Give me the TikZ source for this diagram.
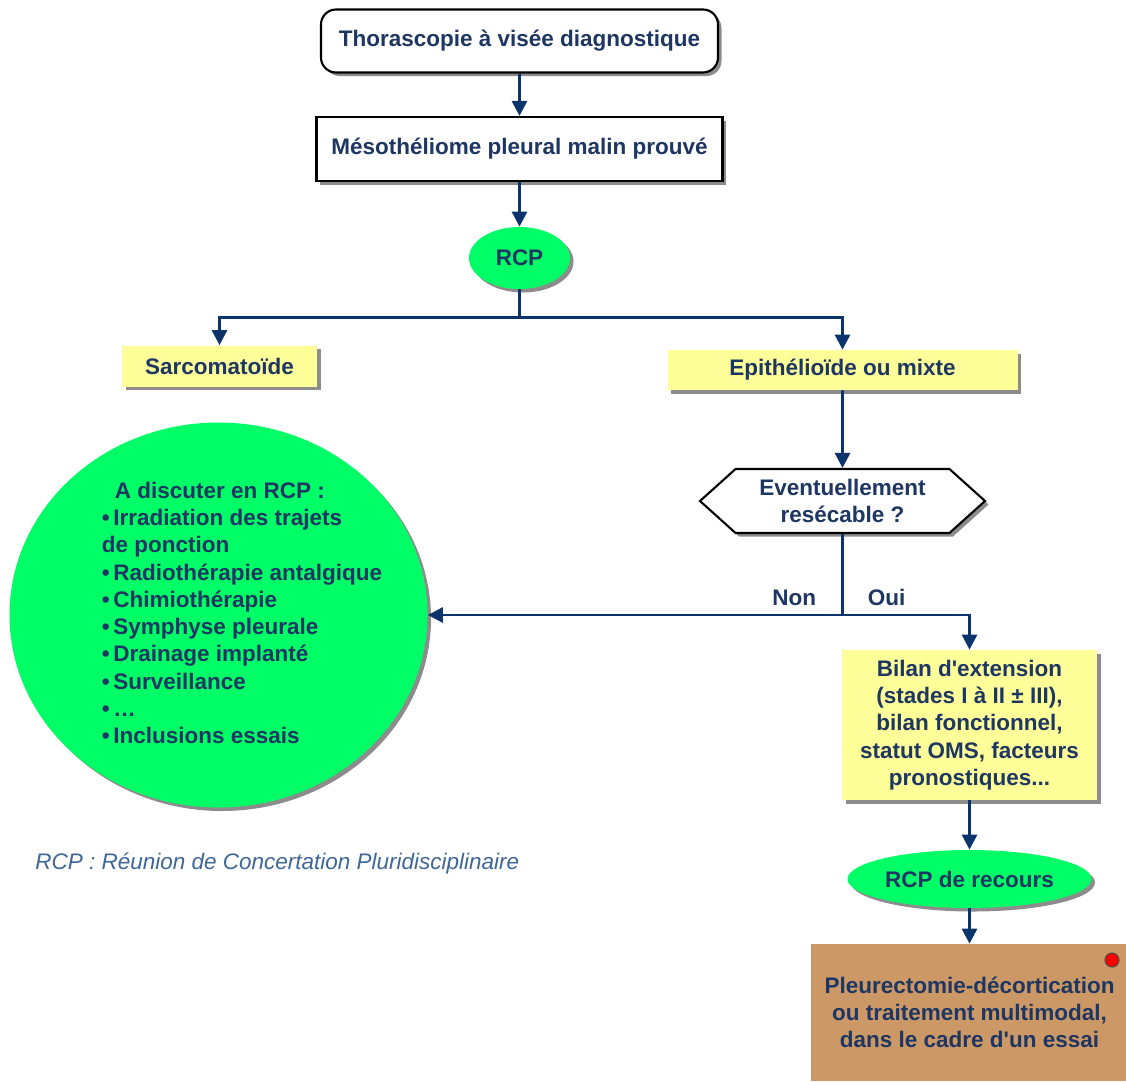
\documentclass[tikz,border=0pt]{standalone}
\usepackage{fontspec}
\setmainfont{Liberation Sans}[Ligatures=TeXOff]
\usepackage{tikz}
\usetikzlibrary{shapes.geometric, shapes.symbols, arrows.meta, shadows}
\usetikzlibrary{positioning}
\definecolor{navy}{RGB}{12,52,108}
\definecolor{inknavy}{RGB}{30,54,98}
\definecolor{notegrey}{RGB}{62,102,150}
\definecolor{paleyellow}{RGB}{255,255,153}
\definecolor{flashgreen}{RGB}{0,255,102}
\definecolor{clay}{RGB}{204,153,102}
\tikzstyle{arrow} = [line width=1.6pt, draw=navy, -{Triangle[length=0.3cm,width=0.3cm]}]
\tikzstyle{link} = [line width=1.6pt, draw=navy]
\tikzstyle{boxshadow} = [drop shadow={shadow xshift=0.07cm, shadow yshift=-0.07cm, fill=black, opacity=0.45}]
\tikzstyle{whitebox} = [rectangle, draw=black, line width=1.2pt, fill=white, boxshadow, text centered]
\tikzstyle{typebox} = [rectangle, fill=paleyellow, boxshadow, text centered]
\tikzstyle{meeting} = [ellipse, fill=flashgreen, boxshadow, inner sep=0pt]
\tikzstyle{answer} = [inner sep=0pt]

\begin{document}
\begin{tikzpicture}[node distance=2.16cm,
    every node/.style={font=\fontsize{12.8pt}{15.5pt}\selectfont\bfseries, text=inknavy}]
    \useasboundingbox (0,0) rectangle (22.52,-21.62);
    \node (thor) [whitebox, rounded corners=0.3cm, minimum width=7.94cm, minimum height=1.26cm] at (10.39,-0.82) {Thorascopie à visée diagnostique};
    \node (meso) [whitebox, below of=thor, minimum width=8.12cm, minimum height=1.28cm] {Mésothéliome pleural malin prouvé};
    \node (rcp) [meeting, node distance=2.18cm, below of=meso, minimum width=2.02cm, minimum height=1.24cm] {RCP};
    \node (sarc) [typebox, below of=rcp, xshift=-6cm, minimum width=3.9cm, minimum height=0.82cm] {Sarcomatoïde};
    \node (epi) [typebox, node distance=2.24cm, below of=rcp, xshift=6.46cm, minimum width=7cm, minimum height=0.8cm] {Epithélioïde ou mixte};
    \node (hex) [signal, signal to=west and east, signal pointer angle=84, draw=black, line width=1.2pt, fill=white, boxshadow, node distance=2.62cm, below of=epi, minimum width=5.7cm, minimum height=1.28cm, align=center] {Eventuellement\\resécable ?};
    \node (circ) [meeting, node distance=4.98cm, below of=sarc, xshift=-0.02cm, minimum width=8.36cm, minimum height=7.7cm] {};
    \node (discuss) [align=left] at ([xshift=0.47cm,yshift=0.04cm]circ.center) {\hspace*{0.26cm}A discuter en RCP :\\
        •\,Irradiation des trajets\\
        de ponction\\
        •\,Radiothérapie antalgique\\
        •\,Chimiothérapie\\
        •\,Symphyse pleurale\\
        •\,Drainage implanté\\
        •\,Surveillance\\
        •\,…\\
        •\,Inclusions essais};
    \node (bilan) [typebox, node distance=4.48cm, below of=hex, xshift=2.54cm, minimum width=5.1cm, minimum height=3cm, align=center] {Bilan d'extension\\(stades I à II ± III),\\bilan fonctionnel,\\statut OMS, facteurs\\pronostiques...};
    \node (recours) [meeting, node distance=3.08cm, below of=bilan, minimum width=4.88cm, minimum height=1.16cm] {RCP de recours};
    \node (pleu) [rectangle, fill=clay, node distance=2.67cm, below of=recours, minimum width=6.36cm, minimum height=2.74cm, align=center] {Pleurectomie-décortication\\ou traitement multimodal,\\dans le cadre d'un essai};
    \node (flag) [circle, fill=red, draw=black!70, line width=0.6pt, minimum size=0.28cm, inner sep=0pt] at (22.24,-19.2) {};
    \node (legend) [anchor=base west, inner sep=0pt, font=\fontsize{12.8pt}{15pt}\selectfont\itshape, text=notegrey] at (0.7,-17.38) {RCP : Réunion de Concertation Pluridisciplinaire};

    \coordinate (fork) at (hex.south |- circ.east);
    \node (non) [answer, anchor=base east] at ([xshift=-0.52cm,yshift=0.2cm]fork) {Non};
    \node (oui) [answer, anchor=base west] at ([xshift=0.5cm,yshift=0.2cm]fork) {Oui};

    \draw [arrow] (thor) -- (meso);
    \draw [arrow] (meso) -- (rcp);
    \draw [arrow] (rcp.south) -- ++(0,-0.56) -| (sarc.north);
    \draw [arrow] (rcp.south) -- ++(0,-0.56) -| (epi.north);
    \draw [arrow] (epi) -- (hex);
    \draw [link] (hex.south) -- (fork);
    \draw [arrow] (fork) -- (circ.east);
    \draw [arrow] (fork) -| (bilan.north);
    \draw [arrow] (bilan) -- (recours);
    \draw [arrow] (recours) -- (pleu);
\end{tikzpicture}
\end{document}
